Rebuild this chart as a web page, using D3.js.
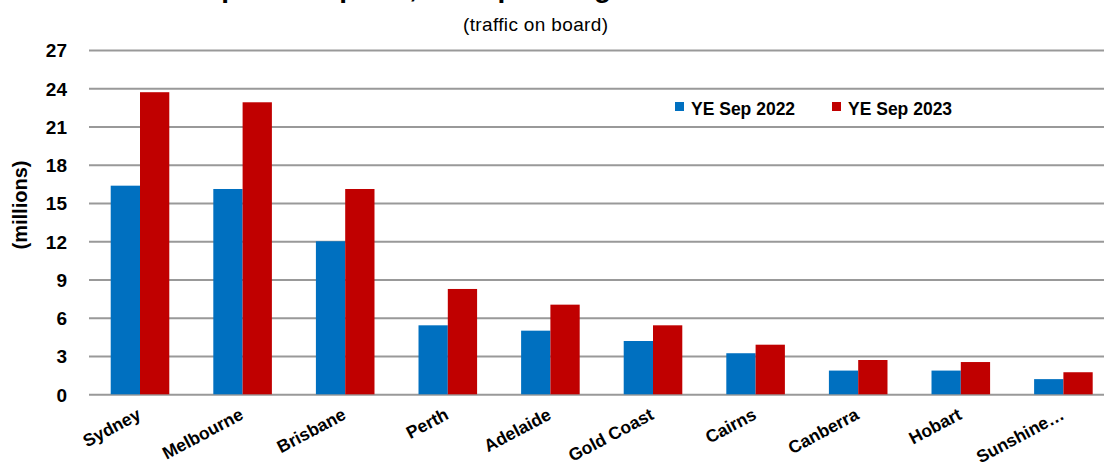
<!DOCTYPE html>
<html>
<head>
<meta charset="utf-8">
<script src="https://cdn.jsdelivr.net/npm/d3@7"></script>
<style>
  html, body { margin: 0; padding: 0; background: #fff; }
  svg { display: block; }
</style>
</head>
<body>
<svg id="chart" width="1104" height="469"></svg>
<script>
const categories = ["Sydney", "Melbourne", "Brisbane", "Perth", "Adelaide", "Gold Coast", "Cairns", "Canberra", "Hobart", "Sunshine…"];
const seriesNames = ["YE Sep 2022", "YE Sep 2023"];
const ye2022 = [16.36, 16.1, 12.0, 5.41, 4.99, 4.18, 3.22, 1.86, 1.86, 1.19];
const ye2023 = [23.69, 22.9, 16.1, 8.26, 7.03, 5.41, 3.89, 2.69, 2.53, 1.73];
const yTicks = [0, 3, 6, 9, 12, 15, 18, 21, 24, 27];
const titleText = "Top Ten Airports, Total passengers";
const subtitleText = "(traffic on board)";
const yLabel = "(millions)";

const colors = ["#0070C0", "#C00000"];
const svg = d3.select("#chart");
const FONT = "'Liberation Sans', Arial, sans-serif";

const x0 = d3.scaleBand().domain(categories).range([88.7, 1114.7]).paddingInner(0.429).paddingOuter(0.2145);
const x1 = d3.scaleBand().domain(seriesNames).range([0, x0.bandwidth()]);
const y = d3.scaleLinear().domain([0, 27]).range([394.3, 50]);

// gridlines
const yAxis = d3.axisLeft(y).tickValues(yTicks).tickSize(-(1104 - 89)).tickPadding(22);
const gy = svg.append("g").attr("transform", "translate(89,0)").call(yAxis);
gy.select(".domain").remove();
gy.selectAll(".tick line").attr("stroke", "#999").attr("stroke-width", 2);
gy.selectAll(".tick text")
  .attr("font-family", FONT).attr("font-weight", "bold").attr("font-size", 19)
  .attr("fill", "#000").attr("dy", "0.36em");

// bars
const data = categories.map((c, i) => ({ c, vals: [ye2022[i], ye2023[i]] }));
const groups = svg.append("g").selectAll("g").data(data).join("g")
  .attr("transform", d => `translate(${x0(d.c)},0)`);
groups.selectAll("rect").data(d => d.vals.map((v, j) => ({ v, s: seriesNames[j], j })))
  .join("rect")
  .attr("x", d => x1(d.s))
  .attr("width", x1.bandwidth())
  .attr("y", d => y(d.v))
  .attr("height", d => y(0) - y(d.v))
  .attr("fill", d => colors[d.j]);

// x labels
const xAxis = d3.axisBottom(x0).tickSize(0).tickPadding(0);
const gx = svg.append("g").attr("transform", "translate(0,394.3)").call(xAxis);
gx.select(".domain").remove();
gx.selectAll(".tick text")
  .attr("font-family", FONT).attr("font-weight", "bold").attr("font-size", 17.5)
  .attr("fill", "#000")
  .attr("text-anchor", "end")
  .attr("dy", 0).attr("y", 0)
  .attr("transform", "translate(2,24) rotate(-28)");

// y label
svg.append("text")
  .attr("transform", "translate(27,205) rotate(-90)")
  .attr("text-anchor", "middle")
  .attr("font-family", FONT).attr("font-weight", "bold").attr("font-size", 20)
  .text(yLabel);

// title (clipped at top, as in the reference)
svg.append("text")
  .attr("x", 189).attr("y", -3)
  .attr("font-family", FONT).attr("font-weight", "bold").attr("font-size", 28)
  .text(titleText);

svg.append("text")
  .attr("x", 463).attr("y", 31)
  .attr("font-family", "'Liberation Sans Narrow', 'Arial Narrow', " + FONT)
  .attr("font-size", 19)
  .attr("textLength", 145).attr("lengthAdjust", "spacing")
  .text(subtitleText);

// legend
const legendX = [675, 832];
const leg = svg.append("g").selectAll("g").data(seriesNames).join("g")
  .attr("transform", (d, i) => `translate(${legendX[i]},102)`);
leg.append("rect").attr("width", 9).attr("height", 9).attr("fill", (d, i) => colors[i]);
leg.append("text").attr("x", 16).attr("y", 12.5)
  .attr("font-family", FONT).attr("font-weight", "bold").attr("font-size", 17.5)
  .text(d => d);
</script>
</body>
</html>
